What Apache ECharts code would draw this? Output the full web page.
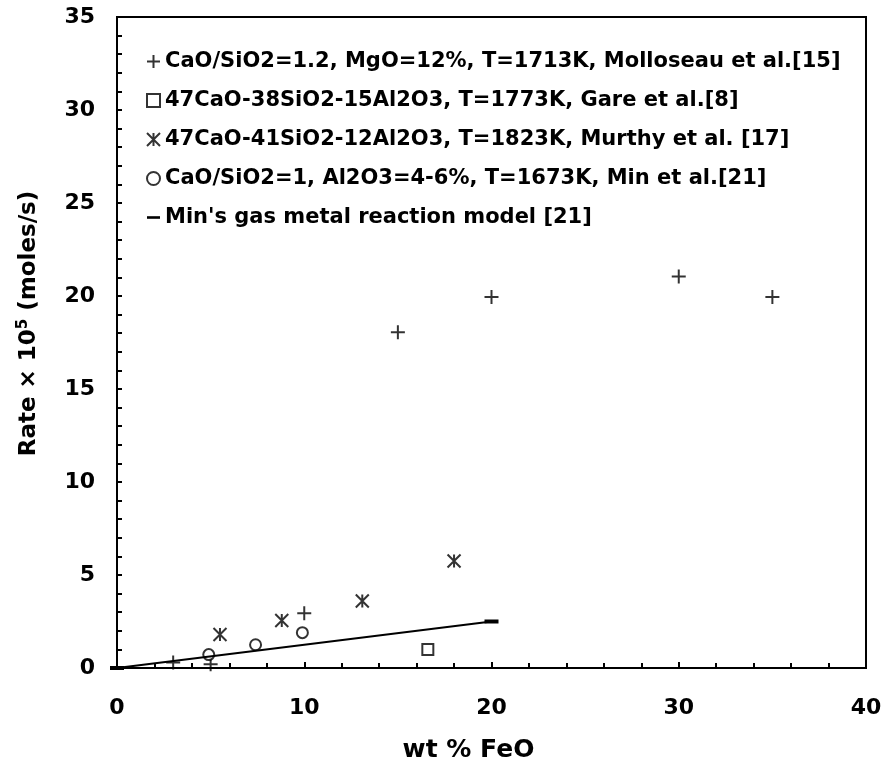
<!DOCTYPE html>
<html>
<head>
<meta charset="utf-8">
<script src="https://cdn.jsdelivr.net/npm/echarts@6/dist/echarts.min.js"></script>
<style>
  html, body { margin: 0; padding: 0; background: #fff; }
  #chart { width: 885px; height: 768px; }
</style>
</head>
<body>
<div id="chart"></div>
<script>
// values
const molloseau = [[3, 0.3], [5, 0.2], [10, 2.95], [15, 18.05], [20, 19.95], [30, 21.05], [35, 19.95]]
const gare = [[16.6, 1.0]]
const murthy = [[5.5, 1.8], [8.8, 2.55], [13.1, 3.6], [18, 5.75]]
const minData = [[4.9, 0.72], [7.4, 1.25], [9.9, 1.9]]
const minModel = [[0, 0], [20, 2.5]]

const seriesNames = [
  'CaO/SiO2=1.2, MgO=12%, T=1713K, Molloseau et al.[15]',
  '47CaO-38SiO2-15Al2O3, T=1773K, Gare et al.[8]',
  '47CaO-41SiO2-12Al2O3, T=1823K, Murthy et al. [17]',
  'CaO/SiO2=1, Al2O3=4-6%, T=1673K, Min et al.[21]',
  "Min's gas metal reaction model [21]"
]

const font = 'DejaVu Sans'
const plusPath = 'path://M0,5L10,5M5,0L5,10'
const starPath = 'path://M0,0L10,10M10,0L0,10M5,0L5,10'
const dashPath = 'path://M0,4L10,4L10,6L0,6Z'

const chart = echarts.init(document.getElementById('chart'))
chart.setOption({
  animation: false,
  grid: {
    left: 117, right: 19, top: 17, bottom: 100,
    show: true, borderColor: '#000', borderWidth: 2
  },
  legend: {
    orient: 'vertical',
    left: 141, top: 46,
    itemWidth: 13, itemHeight: 13,
    itemGap: 18,
    textStyle: { fontFamily: font, fontWeight: 'bold', fontSize: 21, lineHeight: 21, color: '#000' },
    data: [
      { name: seriesNames[0] },
      { name: seriesNames[1] },
      { name: seriesNames[2] },
      { name: seriesNames[3] },
      { name: seriesNames[4], icon: dashPath }
    ]
  },
  xAxis: {
    type: 'value', min: 0, max: 40, interval: 10,
    name: 'wt % FeO', nameLocation: 'middle', nameGap: 70,
    nameTextStyle: { fontFamily: font, fontWeight: 'bold', fontSize: 25, color: '#000', padding: [0, 46, 0, 0] },
    axisLine: { lineStyle: { color: '#000', width: 2 } },
    axisTick: { inside: true, length: 6, lineStyle: { color: '#000', width: 2 } },
    minorTick: { show: true, splitNumber: 5, length: 5, lineStyle: { color: '#000', width: 2 } },
    splitLine: { show: false },
    axisLabel: { margin: 29, fontFamily: font, fontWeight: 'bold', fontSize: 22, color: '#000' }
  },
  yAxis: {
    type: 'value', min: 0, max: 35, interval: 5,
    name: '{t|Rate × 10}{s|5}{t| (moles/s)}', nameLocation: 'middle', nameGap: 74,
    nameTextStyle: {
      padding: [0, 0, 0, 38],
      rich: {
        t: { fontFamily: font, fontWeight: 'bold', fontSize: 23, color: '#000' },
        s: { fontFamily: font, fontWeight: 'bold', fontSize: 15, color: '#000', verticalAlign: 'top', padding: [0, 0, 12, 0] }
      }
    },
    axisLine: { lineStyle: { color: '#000', width: 2 } },
    axisTick: { inside: true, length: 5, lineStyle: { color: '#000', width: 2 } },
    minorTick: { show: true, splitNumber: 5, length: 5, lineStyle: { color: '#000', width: 2 } },
    splitLine: { show: false },
    axisLabel: { margin: 22, fontFamily: font, fontWeight: 'bold', fontSize: 22, color: '#000' }
  },
  series: [
    {
      name: seriesNames[0], type: 'scatter', data: molloseau,
      symbol: plusPath, symbolSize: 14,
      itemStyle: { color: 'transparent', borderColor: '#000', borderWidth: 2 }
    },
    {
      name: seriesNames[1], type: 'scatter', data: gare,
      symbol: 'rect', symbolSize: 11,
      itemStyle: { color: '#fff', borderColor: '#000', borderWidth: 2 }
    },
    {
      name: seriesNames[2], type: 'scatter', data: murthy,
      symbol: starPath, symbolSize: 13,
      itemStyle: { color: 'transparent', borderColor: '#000', borderWidth: 2 }
    },
    {
      name: seriesNames[3], type: 'scatter', data: minData,
      symbol: 'circle', symbolSize: 11,
      itemStyle: { color: '#fff', borderColor: '#000', borderWidth: 2 }
    },
    {
      name: seriesNames[4], type: 'line', data: minModel,
      symbol: 'rect', symbolSize: [14, 4], showSymbol: true,
      lineStyle: { color: '#000', width: 2 },
      itemStyle: { color: '#000', borderWidth: 0 }
    }
  ]
})
</script>
</body>
</html>
